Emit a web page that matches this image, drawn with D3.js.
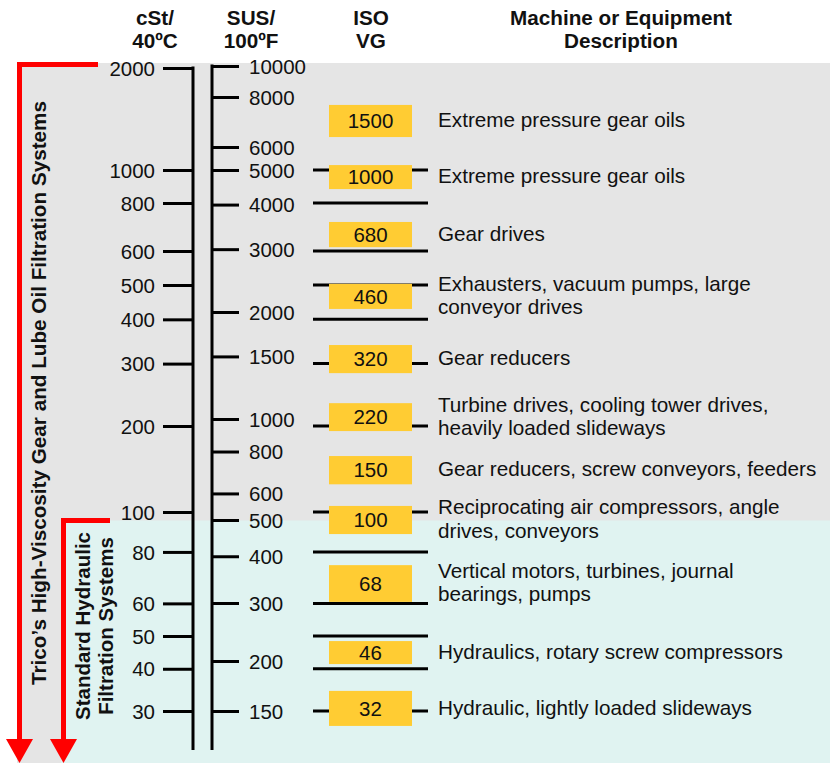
<!DOCTYPE html>
<html><head><meta charset="utf-8">
<script src="https://cdn.jsdelivr.net/npm/d3@7"></script>
<style>
body{margin:0;background:#fff}
svg text{font-family:"Liberation Sans",Arial,Helvetica,sans-serif;fill:#111}
</style>
</head><body>
<svg id="c" width="830" height="763"></svg>
<script>
// ---------------- data ----------------
const cstTicks = [2000,1000,800,600,500,400,300,200,100,80,60,50,40,30];
const susTicks = [10000,8000,6000,5000,4000,3000,2000,1500,1000,800,600,500,400,300,200,150];
const isoGrades = [1500,1000,680,460,320,220,150,100,68,46,32];
// range of each ISO VG box, cSt at 40°C
const isoLow  = [1251, 879, 614, 428, 282, 192, 125, 88.4, 60.5, 41.3, 27.1];
const isoHigh = [1556,1034, 714, 503, 338.5,232, 157, 105, 74.3, 48.3, 34.4];
const descriptions = [
  ["Extreme pressure gear oils"],
  ["Extreme pressure gear oils"],
  ["Gear drives"],
  ["Exhausters, vacuum pumps, large","conveyor drives"],
  ["Gear reducers"],
  ["Turbine drives, cooling tower drives,","heavily loaded slideways"],
  ["Gear reducers, screw conveyors, feeders"],
  ["Reciprocating air compressors, angle","drives, conveyors"],
  ["Vertical motors, turbines, journal","bearings, pumps"],
  ["Hydraulics, rotary screw compressors"],
  ["Hydraulic, lightly loaded slideways"]
];
const headers = [
  {lines:["cSt/","40ºC"], x:155},
  {lines:["SUS/","100ºF"], x:251},
  {lines:["ISO","VG"], x:371},
  {lines:["Machine or Equipment","Description"], x:621}
];
const highViscLabel = ["Trico’s High-Viscosity Gear and Lube Oil Filtration Systems"];
const hydraulicLabel = ["Standard Hydraulic","Filtration Systems"];
const hydraulicStartSUS = 500;   // boundary of standard hydraulic zone
const axisEndCst = 23;           // where the scale columns stop

// ---------------- setup ----------------
const W = 830, H = 763;
const svg = d3.select("#c");
const RED = "#ff0000", YEL = "#ffcc33", GREY = "#e5e5e5", TEAL = "#e0f3f1";

// cSt (40°C) scale and SUS (100°F) scale — the printed chart is not a pure log grid,
// so each is a piecewise log scale calibrated on its printed ticks
const y = d3.scaleLog()
  .domain([2000,1000,800,600,500,200,100,50,30])
  .range([68,170,203,251,285,426,512,636,711]);
const ys = d3.scaleLog()
  .domain([10000,8000,6000,5000,2000,1000,500,300,200,150])
  .range([66,97,147,170,312,419,520,603,661,711]);

const topY = ys(susTicks[0]) - 3;
const hydroY = ys(hydraulicStartSUS) + 0.5;
const bottomY = y(axisEndCst);

// backgrounds
svg.append("rect").attr("x",17).attr("y",topY).attr("width",W-17).attr("height",H-topY).attr("fill",GREY);
svg.append("rect").attr("x",61).attr("y",hydroY).attr("width",W-61).attr("height",H-hydroY).attr("fill",TEAL);

// red brackets + arrows
function bracket(xv, yTop, xEnd){
  svg.append("path")
    .attr("d",`M${xEnd},${yTop}H${xv}V${H-22}`)
    .attr("fill","none").attr("stroke",RED).attr("stroke-width",5).attr("stroke-linejoin","miter");
  svg.append("path")
    .attr("d",`M${xv-13.5},${H-24}L${xv+13.5},${H-24}L${xv},${H}Z`)
    .attr("fill",RED);
}
bracket(19.5, topY+1.5, 98);
bracket(63.5, hydroY, 110);

// cSt axis
const cstX = 193;
const gC = svg.append("g").attr("transform",`translate(${cstX},0)`)
  .call(d3.axisLeft(y).tickValues(cstTicks).tickFormat(d=>String(d)).tickSize(30).tickPadding(8).tickSizeOuter(0));
gC.select(".domain").remove();
gC.selectAll(".tick line").attr("stroke","#000").attr("stroke-width",3);
gC.selectAll(".tick text").attr("font-size",20.5).attr("dy","0.35em").style("fill","#111");
svg.append("line").attr("x1",cstX).attr("x2",cstX).attr("y1",y(cstTicks[0])-1.5).attr("y2",bottomY)
  .attr("stroke","#000").attr("stroke-width",3);

// SUS axis
const susX = 212;
const gS = svg.append("g").attr("transform",`translate(${susX},0)`)
  .call(d3.axisRight(ys).tickValues(susTicks).tickFormat(d=>String(d)).tickSize(27).tickPadding(10).tickSizeOuter(0));
gS.select(".domain").remove();
gS.selectAll(".tick line").attr("stroke","#000").attr("stroke-width",3);
gS.selectAll(".tick text").attr("font-size",20.5).attr("dy","0.35em").style("fill","#111");
svg.append("line").attr("x1",susX).attr("x2",susX).attr("y1",ys(susTicks[0])-1.5).attr("y2",bottomY)
  .attr("stroke","#000").attr("stroke-width",3);

// ISO column guide lines at the cSt ticks
const isoX0 = 313, isoX1 = 428, boxX0 = 329, boxX1 = 412;
svg.append("g").selectAll("line").data(cstTicks.filter(t => t < cstTicks[0])).join("line")
  .attr("x1",isoX0).attr("x2",isoX1).attr("y1",d=>y(d)).attr("y2",d=>y(d))
  .attr("stroke","#000").attr("stroke-width",3);

// ISO boxes
const rows = isoGrades.map((g,i)=>({g, lo:isoLow[i], hi:isoHigh[i], desc:descriptions[i]}));
svg.append("g").selectAll("rect").data(rows).join("rect")
  .attr("x",boxX0).attr("width",boxX1-boxX0)
  .attr("y",d=>y(d.hi)).attr("height",d=>y(d.lo)-y(d.hi))
  .attr("fill",YEL);
svg.append("g").selectAll("text").data(rows).join("text")
  .attr("x",(boxX0+boxX1)/2).attr("y",d=>(y(d.hi)+y(d.lo))/2).attr("dy","0.35em")
  .attr("text-anchor","middle").attr("font-size",20.5).text(d=>d.g);

// descriptions
const lh = 23.5;
const dg = svg.append("g");
rows.forEach(r=>{
  const cy = (y(r.hi)+y(r.lo))/2;
  const t = dg.append("text").attr("x",438).attr("font-size",20.7);
  r.desc.forEach((s,k)=>{
    t.append("tspan").attr("x",438)
      .attr("y", cy - (r.desc.length-1)*lh/2 + k*lh).attr("dy","0.3em").text(s);
  });
});

// headers
headers.forEach(h=>{
  const t = svg.append("text").attr("text-anchor","middle").attr("font-size",20.7).attr("font-weight","bold");
  h.lines.forEach((s,k)=> t.append("tspan").attr("x",h.x).attr("y",25+k*23).text(s));
});

// rotated zone labels
const cyHigh = 393;
svg.append("text").attr("transform",`translate(46,${cyHigh}) rotate(-90)`)
  .attr("text-anchor","middle").attr("font-size",20.7).attr("font-weight","bold").text(highViscLabel[0]);
const cyHyd = 626;
const tH = svg.append("text").attr("transform",`translate(90,${cyHyd}) rotate(-90)`)
  .attr("text-anchor","middle").attr("font-size",20.5).attr("font-weight","bold");
hydraulicLabel.forEach((s,k)=> tH.append("tspan").attr("x",0).attr("y",k*23).text(s));
</script>
</body></html>
